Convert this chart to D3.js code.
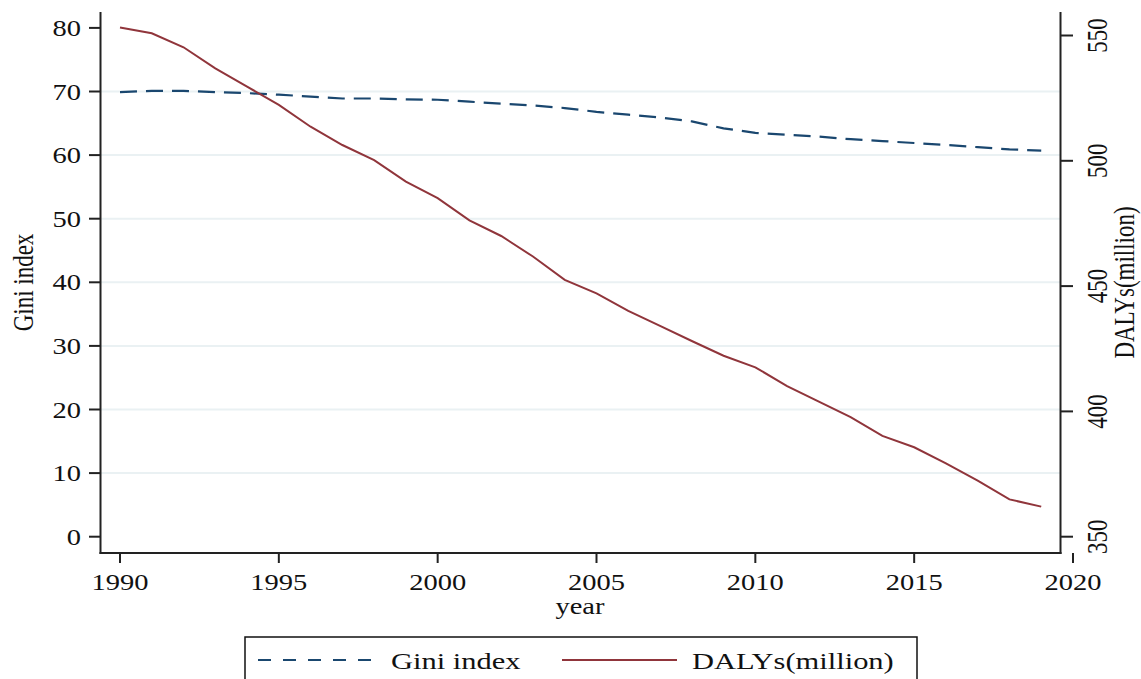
<!DOCTYPE html>
<html><head><meta charset="utf-8">
<script src="https://cdn.jsdelivr.net/npm/d3@7"></script>
<style>body{margin:0;background:#fff}svg{display:block}</style>
</head><body>
<svg id="c" width="1141" height="679"></svg>
<script>
const years = d3.range(1990, 2020);
const gini = [69.9,70.1,70.1,69.9,69.75,69.5,69.2,68.9,68.9,68.75,68.7,68.4,68.1,67.8,67.4,66.8,66.35,65.9,65.3,64.2,63.5,63.2,62.9,62.5,62.2,61.9,61.6,61.25,60.9,60.7];
const dalys = [553.2,550.9,545.3,536.9,529.6,522.3,513.6,506.3,500.3,491.7,485.1,476.2,470,461.8,452.5,447.1,440.1,434.1,428.1,422.2,417.6,410.1,403.9,397.7,390.2,385.7,379.3,372.4,364.9,362];
const xTicks = [1990,1995,2000,2005,2010,2015,2020];
const leftTicks = [0,10,20,30,40,50,60,70,80];
const rightTicks = [350,400,450,500,550];
const seriesNames = ["Gini index","DALYs(million)"];

const svg = d3.select("#c");
const FONT = "'Liberation Serif','Times New Roman',serif";
const FS = 23, SX = 1.24;
const navy = "#1a476f", maroon = "#90353b", axisCol = "#222";

const x = d3.scaleLinear().domain([1990,2020]).range([120,1073]);
const yL = d3.scaleLinear().domain([0,80]).range([536.7,27.9]);
const yR = d3.scaleLinear().domain([350,550]).range([536.7,35.5]);
const plotL = 100.5, plotR = 1060.5, plotT = 12, plotB = 553;

function txt(s, tx, ty, anchor, rot, fs, sx){
  return svg.append("text")
    .attr("transform", `translate(${tx},${ty}) scale(${sx||SX},1)` + (rot ? ` rotate(${rot})` : ""))
    .attr("text-anchor", anchor)
    .attr("font-family", FONT).attr("font-size", fs||FS).attr("fill", "#111")
    .text(s);
}

// gridlines
svg.append("g").selectAll("line").data(leftTicks.filter(d => d > 0 && d < 80)).join("line")
  .attr("x1", plotL).attr("x2", plotR).attr("y1", d => yL(d)).attr("y2", d => yL(d))
  .attr("stroke", "#eaf1f3").attr("stroke-width", 2);

// axis lines
svg.append("line").attr("x1", plotL).attr("x2", plotL).attr("y1", plotT).attr("y2", plotB+1).attr("stroke", axisCol).attr("stroke-width", 2);
svg.append("line").attr("x1", plotR).attr("x2", plotR).attr("y1", plotT).attr("y2", plotB+1).attr("stroke", axisCol).attr("stroke-width", 2);
svg.append("line").attr("x1", plotL-1).attr("x2", plotR+1).attr("y1", plotB).attr("y2", plotB).attr("stroke", axisCol).attr("stroke-width", 2);

// left ticks
leftTicks.forEach(t => {
  svg.append("line").attr("x1", 89).attr("x2", plotL).attr("y1", yL(t)).attr("y2", yL(t)).attr("stroke", axisCol).attr("stroke-width", 2);
  txt(String(t), 81, yL(t) + 8, "end");
});
// right ticks
rightTicks.forEach(t => {
  svg.append("line").attr("x1", plotR).attr("x2", 1073).attr("y1", yR(t)).attr("y2", yR(t)).attr("stroke", axisCol).attr("stroke-width", 2);
  txt(String(t), 1106.5, yR(t), "middle", -90);
});
// bottom ticks
xTicks.forEach(t => {
  svg.append("line").attr("x1", x(t)).attr("x2", x(t)).attr("y1", plotB).attr("y2", 563).attr("stroke", axisCol).attr("stroke-width", 2);
  txt(String(t), x(t), 590, "middle");
});

// titles
txt("year", 580, 614, "middle");
txt("Gini index", 33, 282.5, "middle", -90);
txt("DALYs(million)", 1134, 282.5, "middle", -90);

// lines
svg.append("path").datum(years.map((yr,i)=>[yr,gini[i]]))
  .attr("d", d3.line().x(d=>x(d[0])).y(d=>yL(d[1])))
  .attr("fill","none").attr("stroke",navy).attr("stroke-width",2.2).attr("stroke-dasharray","17,9");
svg.append("path").datum(years.map((yr,i)=>[yr,dalys[i]]))
  .attr("d", d3.line().x(d=>x(d[0])).y(d=>yR(d[1])))
  .attr("fill","none").attr("stroke",maroon).attr("stroke-width",2);

// legend
svg.append("rect").attr("x",245).attr("y",637).attr("width",672).attr("height",80)
  .attr("fill","#fff").attr("stroke","#111").attr("stroke-width",1.5);
svg.append("line").attr("x1",258).attr("x2",372).attr("y1",660).attr("y2",660)
  .attr("stroke",navy).attr("stroke-width",2.2).attr("stroke-dasharray","13,12");
txt(seriesNames[0], 391, 669, "start", null, 24, 1.27);
svg.append("line").attr("x1",562).attr("x2",677).attr("y1",660).attr("y2",660)
  .attr("stroke",maroon).attr("stroke-width",2);
txt(seriesNames[1], 692, 669, "start", null, 24, 1.27);
</script>
</body></html>
